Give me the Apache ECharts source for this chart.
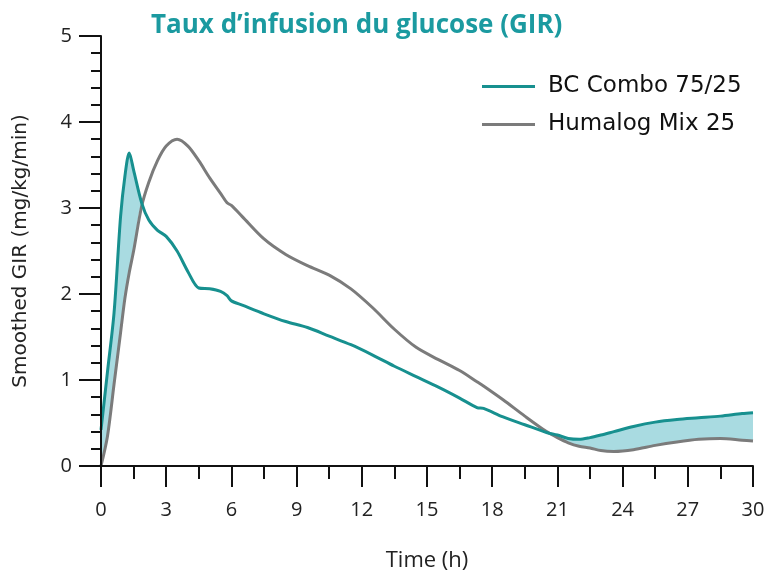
<!DOCTYPE html>
<html>
<head>
<meta charset="utf-8">
<script src="https://cdn.jsdelivr.net/npm/echarts@6/dist/echarts.min.js"></script>
<style>
  html, body { margin: 0; padding: 0; background: #fff; }
  #chart { width: 768px; height: 577px; }
</style>
</head>
<body>
<div id="chart"></div>
<script>
// time points (h), shared by both curves
const hours = [0, 0.3, 0.6, 0.9, 1.1, 1.3, 1.5, 1.87, 2.2, 2.6, 3.0, 3.5, 4.0, 4.5, 5.0, 5.5, 5.8, 6.0, 6.5,
  7.5, 8.5, 9.5, 10.5, 11.5, 12.5, 13.5, 14.5, 15.5, 16.5, 17.3, 17.6, 18.5, 19.5, 20.5, 21.0, 21.5,
  22, 22.5, 23, 23.6, 24.5, 25.5, 26.5, 27.5, 28.5, 29.5, 30];

const bcCombo = [0.42, 1.10, 1.78, 2.90, 3.37, 3.64, 3.44, 3.06, 2.86, 2.74, 2.67, 2.50, 2.26, 2.07, 2.06, 2.03, 1.98, 1.92, 1.87,
  1.77, 1.68, 1.61, 1.51, 1.41, 1.29, 1.16, 1.04, 0.92, 0.79, 0.68, 0.67, 0.57, 0.48, 0.39, 0.36, 0.32,
  0.31, 0.33, 0.36, 0.40, 0.46, 0.51, 0.54, 0.56, 0.58, 0.61, 0.62];

const humalog = [0.00, 0.35, 0.95, 1.55, 1.95, 2.25, 2.50, 3.02, 3.30, 3.55, 3.72, 3.80, 3.72, 3.55, 3.35, 3.17, 3.06, 3.03, 2.90,
  2.64, 2.46, 2.33, 2.22, 2.06, 1.84, 1.59, 1.38, 1.24, 1.11, 0.98, 0.93, 0.77, 0.58, 0.40, 0.33, 0.27,
  0.23, 0.21, 0.18, 0.17, 0.19, 0.24, 0.28, 0.31, 0.32, 0.30, 0.29];

const xTicks = [0, 3, 6, 9, 12, 15, 18, 21, 24, 27, 30];
const yTicks = [0, 1, 2, 3, 4, 5];

const teal = '#17908f';
const grey = '#7b7b7b';
const fill = '#a9dbe1';
const font = 'Open Sans';

// shading: area under BC Combo, masked in white below the lower of the two curves
const tealPts = hours.map((h, i) => [h, bcCombo[i]]);
const greyPts = hours.map((h, i) => [h, humalog[i]]);
const lowerPts = hours.map((h, i) => [h, Math.min(bcCombo[i], humalog[i])]);

const chart = echarts.init(document.getElementById('chart'));
chart.setOption({
  animation: false,
  title: {
    text: 'Taux d\u2019infusion du glucose (GIR)',
    left: 146,
    top: 8,
    textStyle: { color: '#1b9aa0', fontSize: 26, fontWeight: 'bold', fontFamily: font }
  },
  legend: {
    orient: 'vertical',
    left: 482,
    top: 75,
    padding: 0,
    itemWidth: 53,
    itemHeight: 3,
    itemGap: 15,
    icon: 'rect',
    data: ['BC Combo 75/25', 'Humalog Mix 25'],
    textStyle: { color: '#111', fontSize: 23, fontFamily: 'DejaVu Sans', padding: [0, 0, 0, 8] }
  },
  grid: { left: 101, right: 15, top: 36, bottom: 110 },
  xAxis: {
    type: 'value',
    min: 0, max: 30, interval: 3,
    z: 5,
    name: 'Time (h)',
    nameLocation: 'middle',
    nameGap: 84,
    nameTextStyle: { color: '#222', fontSize: 22, fontFamily: font },
    axisLine: { lineStyle: { color: '#111', width: 2 } },
    axisTick: { length: 21, lineStyle: { color: '#111', width: 2 } },
    minorTick: { show: true, splitNumber: 2, length: 13, lineStyle: { color: '#111', width: 2 } },
    splitLine: { show: false },
    axisLabel: {
      margin: 34, fontSize: 20, color: '#222', fontFamily: font,
      formatter: v => xTicks.includes(v) ? String(v) : ''
    }
  },
  yAxis: {
    type: 'value',
    min: 0, max: 5, interval: 1,
    z: 5,
    name: 'Smoothed GIR (mg/kg/min)',
    nameLocation: 'middle',
    nameGap: 70,
    nameTextStyle: { color: '#222', fontSize: 20, fontFamily: 'DejaVu Sans' },
    axisLine: { show: true, lineStyle: { color: '#111', width: 2 } },
    axisTick: { show: true, length: 22, lineStyle: { color: '#111', width: 2 } },
    minorTick: { show: true, splitNumber: 5, length: 10, lineStyle: { color: '#111', width: 2 } },
    splitLine: { show: false },
    axisLabel: {
      margin: 29, fontSize: 20, color: '#222', fontFamily: font,
      formatter: v => yTicks.includes(v) ? String(v) : ''
    }
  },
  series: [
    {
      name: 'band', type: 'line', data: tealPts, z: 1,
      symbol: 'none', smooth: 0.3, lineStyle: { opacity: 0 },
      areaStyle: { color: fill, opacity: 1 }, silent: true
    },
    {
      name: 'mask', type: 'line', data: lowerPts, z: 1,
      symbol: 'none', smooth: 0.3, lineStyle: { opacity: 0 },
      areaStyle: { color: '#fff', opacity: 1 }, silent: true
    },
    {
      name: 'Humalog Mix 25', type: 'line', data: greyPts, z: 3,
      symbol: 'none', smooth: 0.3, color: grey,
      lineStyle: { color: grey, width: 3 }
    },
    {
      name: 'BC Combo 75/25', type: 'line', data: tealPts, z: 3,
      symbol: 'none', smooth: 0.3, color: teal,
      lineStyle: { color: teal, width: 3 }
    }
  ]
});
</script>
</body>
</html>
